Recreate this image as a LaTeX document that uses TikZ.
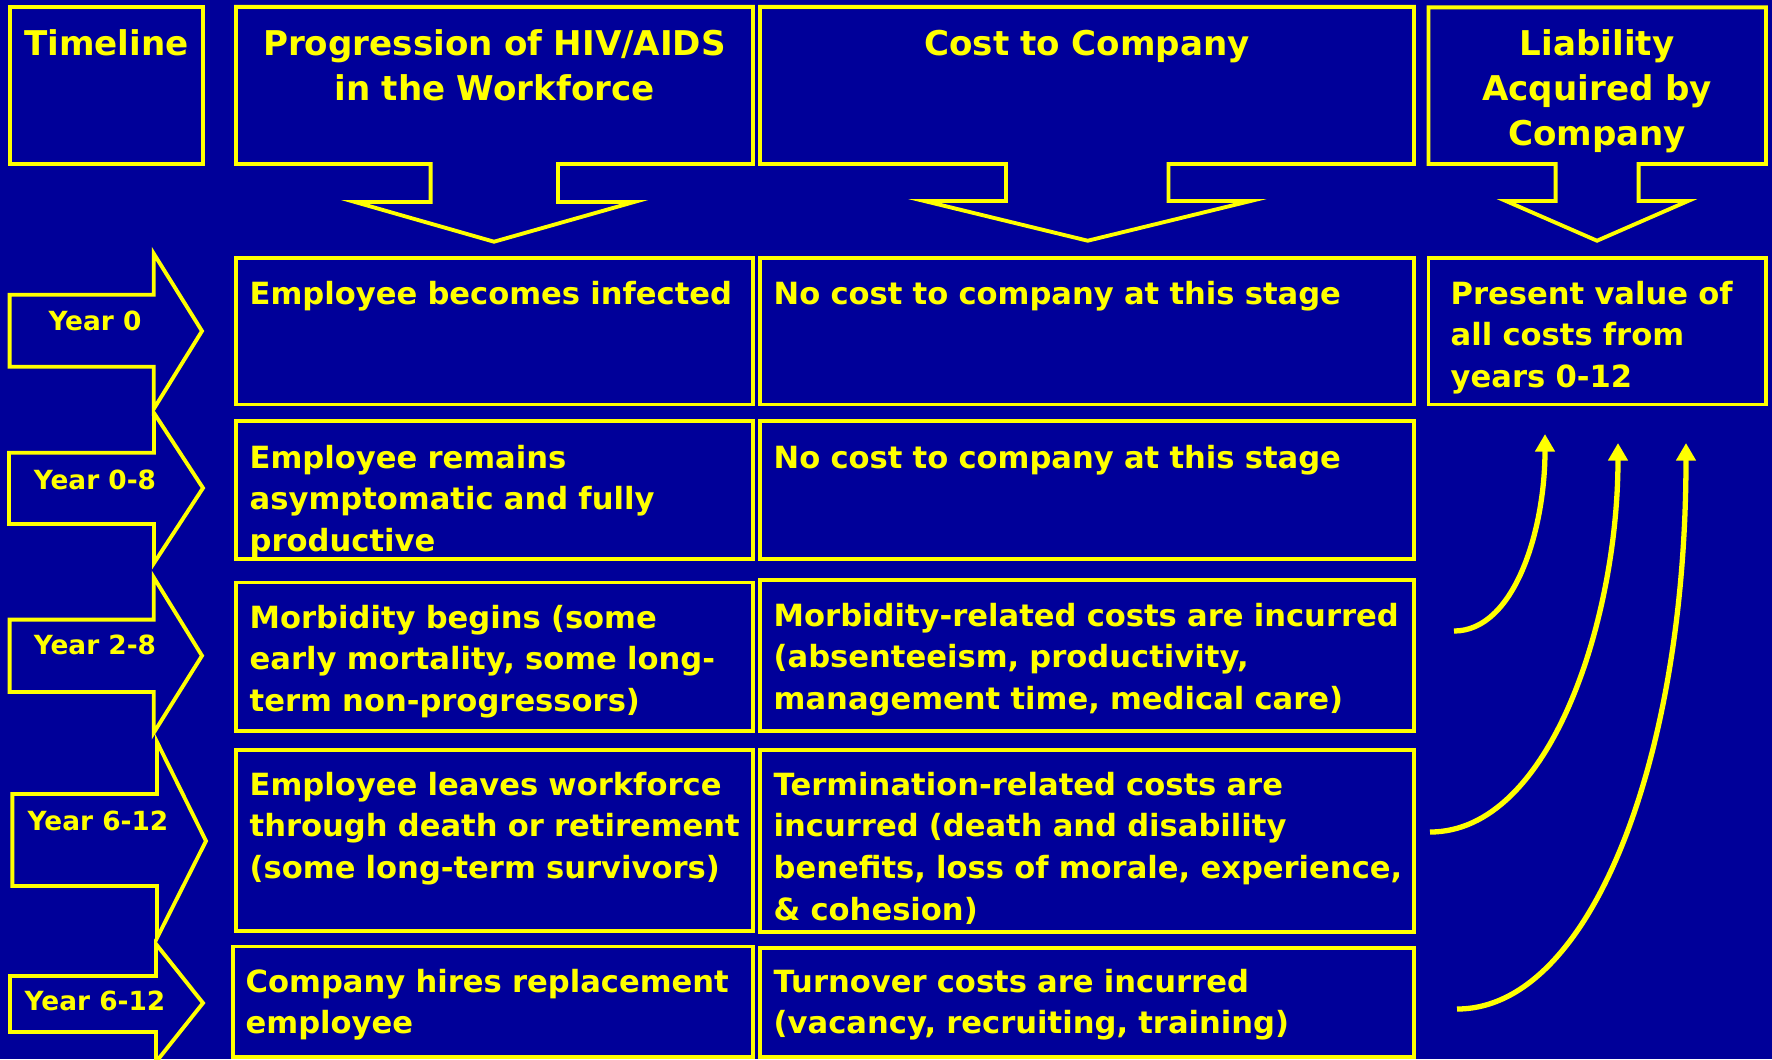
\documentclass[tikz,border=0pt]{standalone}
\usepackage{fontspec}
\setmainfont{DejaVu Sans}
\usetikzlibrary{arrows.meta}
\definecolor{slideblue}{RGB}{0,0,153}
\definecolor{slideyellow}{RGB}{255,255,0}

\begin{document}
\begin{tikzpicture}[x=0.01cm, y=-0.01cm,
    frame/.style={draw=slideyellow, line width=1.1pt},
    link/.style={draw=slideyellow, line width=1.5pt, -{Triangle[width=5.4pt,length=5pt]}},
    headtext/.style={text=slideyellow, font=\bfseries\fontsize{9.7}{12.8}\selectfont, align=center, anchor=base, inner sep=0pt, text width=5.5cm},
    celltext/.style={text=slideyellow, font=\bfseries\fontsize{8.7}{11.9}\selectfont, align=left, anchor=base west, inner sep=0pt, text width=6.3cm},
    yeartext/.style={text=slideyellow, font=\bfseries\fontsize{7.5}{9}\selectfont, anchor=base, inner sep=0pt}]
    \fill[slideblue] (0,0) rectangle (1772,1059);
    \useasboundingbox (0,0) rectangle (1772,1059);

    \draw[frame] (9.6,6.8) rectangle (203.4,164);
    \draw[frame] (236,164) -- (236,6.8) -- (753,6.8) -- (753,164) -- (558,164) -- (558,202) -- (634,202) -- (494,241.7) -- (355,202) -- (430.6,202) -- (430.6,164) -- cycle;
    \draw[frame] (760,164) -- (760,6.8) -- (1414,6.8) -- (1414,164) -- (1168.5,164) -- (1168.5,201) -- (1250.5,201) -- (1087.7,240.7) -- (924.4,201) -- (1006,201) -- (1006,164) -- cycle;
    \draw[frame] (1428.5,164) -- (1428.5,7.4) -- (1766,7.4) -- (1766,164) -- (1638.6,164) -- (1638.6,201) -- (1688,201) -- (1597,240.7) -- (1506,201) -- (1555.6,201) -- (1555.6,164) -- cycle;
    \node[headtext] (timeline) at (106.5,55.7) {Timeline};
    \node[headtext] (progression) at (494.5,55.7) {Progression of HIV/AIDS\\in the Workforce};
    \node[headtext] (cost) at (1087,55.7) {Cost to Company};
    \node[headtext] (liability) at (1597,55.7) {Liability\\Acquired by\\Company};

    \draw[frame] (9.6,294.7) -- (153.7,294.7) -- (153.7,253.5) -- (202,331) -- (153.7,409) -- (153.7,366.7) -- (9.6,366.7) -- cycle;
    \draw[frame] (9,452.7) -- (154,452.7) -- (154,413) -- (203,488) -- (154,563) -- (154,524) -- (9,524) -- cycle;
    \draw[frame] (9.6,619.6) -- (153.7,619.6) -- (153.7,577.3) -- (202,655.7) -- (153.7,732.8) -- (153.7,692) -- (9.6,692) -- cycle;
    \draw[frame] (12.4,794) -- (157,794) -- (157,742) -- (206,841) -- (157,938) -- (157,886) -- (12.4,886) -- cycle;
    \draw[frame] (10,976) -- (156,976) -- (156,944) -- (203,1003) -- (156,1062) -- (156,1032) -- (10,1032) -- cycle;
    \node[yeartext] (year0) at (95,330) {Year 0};
    \node[yeartext] (year08) at (95,489) {Year 0-8};
    \node[yeartext] (year28) at (95,654) {Year 2-8};
    \node[yeartext] (year612a) at (98,830) {Year 6-12};
    \node[yeartext] (year612b) at (95,1010) {Year 6-12};

    \draw[frame] (236,257.6) rectangle (753,404.5);
    \draw[frame] (760,257.6) rectangle (1414,404.5);
    \draw[frame] (1428.5,257.6) rectangle (1766,404.5);
    \draw[frame] (236,420.8) rectangle (753,559);
    \draw[frame] (760,420.8) rectangle (1414,559);
    \draw[frame] (236,582.5) rectangle (753,731);
    \draw[frame] (760,580) rectangle (1414,731);
    \draw[frame] (236,750.4) rectangle (753,931);
    \draw[frame] (760,749.7) rectangle (1414,932);
    \draw[frame] (233,946.5) rectangle (753,1057);
    \draw[frame] (760,948) rectangle (1414,1057);

    \node[celltext] (infected) at (249,304) {Employee becomes infected};
    \node[celltext] (nocost1) at (773,304) {No cost to company at this stage};
    \node[celltext] (present) at (1450,304) {Present value of\\all costs from\\years 0-12};
    \node[celltext] (remains) at (249,468) {Employee remains\\asymptomatic and fully\\productive};
    \node[celltext] (nocost2) at (773,468) {No cost to company at this stage};
    \node[celltext] (morbidity) at (249,628) {Morbidity begins (some\\early mortality, some long-\\term non-progressors)};
    \node[celltext] (morbcost) at (773,626) {Morbidity-related costs are incurred\\(absenteeism, productivity,\\management time, medical care)};
    \node[celltext] (leaves) at (249,795) {Employee leaves workforce\\through death or retirement\\(some long-term survivors)};
    \node[celltext] (termcost) at (773,795) {Termination-related costs are\\incurred (death and disability\\benefits, loss of morale, experience,\\\& cohesion)};
    \node[celltext] (hires) at (245,992) {Company hires replacement\\employee};
    \node[celltext] (turnover) at (773,992) {Turnover costs are incurred\\(vacancy, recruiting, training)};

    \coordinate (morbout) at (1454,631);
    \coordinate (termout) at (1430,832);
    \coordinate (turnout) at (1457,1009);
    \coordinate (pvin1) at (1545,434);
    \coordinate (pvin2) at (1618,443);
    \coordinate (pvin3) at (1686,443);
    \draw[link] (morbout) .. controls (1514,631) and (1545,531) .. (pvin1);
    \draw[link] (termout) .. controls (1550,832) and (1618,620) .. (pvin2);
    \draw[link] (turnout) .. controls (1590,1009) and (1686,760) .. (pvin3);
\end{tikzpicture}
\end{document}
